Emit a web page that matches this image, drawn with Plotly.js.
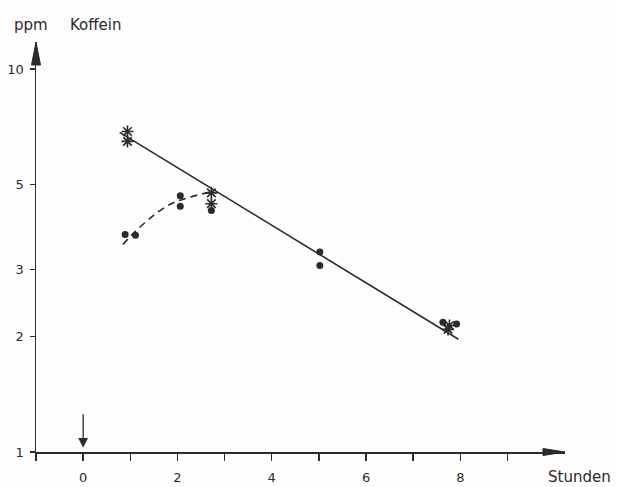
<!DOCTYPE html>
<html>
<head>
<meta charset="utf-8">
<script src="https://cdn.plot.ly/plotly-3.0.1.min.js"></script>
<style>html,body{margin:0;padding:0;background:#fdfdfd;}#chart{width:617px;height:487px;}</style>
</head>
<body>
<div id="chart"></div>
<script>
// Stunden (hours) and Koffein (ppm) readings
var starHours = [0.94, 0.94, 2.72, 2.72, 7.77, 7.74];
var starPpm   = [6.87, 6.47, 4.75, 4.45, 2.14, 2.09];
var dotHours  = [0.89, 1.11, 2.06, 2.06, 2.72, 5.02, 5.02, 7.63, 7.92];
var dotPpm    = [3.70, 3.68, 4.67, 4.38, 4.27, 3.33, 3.07, 2.18, 2.16];
var fitHours  = [0.775, 7.96];
var fitPpm    = [6.83, 1.97];
var riseHours = [0.845, 1.108, 1.766, 2.19, 2.756];
var risePpm   = [3.48, 3.77, 4.38, 4.60, 4.79];
var xTickVals = [-1, 0, 1, 2, 3, 4, 5, 6, 7, 8, 9];
var xTickText = ['', '0', '', '2', '', '4', '', '6', '', '8', ''];
var yTickVals = [1, 2, 3, 5, 10];
var yTickText = ['1', '2', '3', '5', '10'];

var ink = '#2b2b2b';
var font = 'DejaVu Sans, Liberation Sans, Arial, sans-serif';

var traces = [
  {x: fitHours, y: fitPpm, mode: 'lines', line: {color: ink, width: 1.6}, hoverinfo: 'skip'},
  {x: riseHours, y: risePpm, mode: 'lines', line: {color: ink, width: 1.6, dash: '7px,5px', shape: 'spline'}, hoverinfo: 'skip'},
  {x: dotHours, y: dotPpm, mode: 'markers', marker: {symbol: 'circle', size: 7, color: ink}},
  {x: starHours, y: starPpm, mode: 'markers', marker: {symbol: 'asterisk-open', size: 10, color: ink, line: {color: ink, width: 1.6}}}
];

function py(p) { return (452 - p) / 410; }
function px(p) { return (p - 36) / 529; }

var layout = {
  width: 617, height: 487,
  margin: {l: 36, r: 52, t: 42, b: 35, pad: 0},
  paper_bgcolor: '#fdfdfd', plot_bgcolor: '#fdfdfd',
  showlegend: false,
  font: {family: font, color: ink, size: 13},
  xaxis: {
    range: [-1, 10.22], showgrid: false, zeroline: false,
    showline: true, linecolor: ink, linewidth: 1.5,
    ticks: 'outside', ticklen: 7, tickwidth: 1.5, tickcolor: ink,
    tickmode: 'array', tickvals: xTickVals, ticktext: xTickText,
    ticklabelstandoff: 6, tickfont: {family: font, size: 13, color: ink},
    automargin: false
  },
  yaxis: {
    type: 'log', range: [0, 1.0705], showgrid: false, zeroline: false,
    showline: true, linecolor: ink, linewidth: 1.5,
    ticks: 'outside', ticklen: 5, tickwidth: 1.5, tickcolor: ink,
    tickmode: 'array', tickvals: yTickVals, ticktext: yTickText,
    ticklabelstandoff: 3, tickfont: {family: font, size: 13, color: ink},
    automargin: false
  },
  shapes: [
    {type: 'path', xref: 'x', yref: 'paper', xsizemode: 'pixel', ysizemode: 'pixel',
     xanchor: 10.22, yanchor: 0, path: 'M0,0 L-22,3.5 L-22,-3.5 Z',
     fillcolor: ink, line: {color: ink, width: 1}},
    {type: 'path', xref: 'paper', yref: 'paper', xsizemode: 'pixel', ysizemode: 'pixel',
     xanchor: 0, yanchor: 1, path: 'M0,0 L-4.5,-23 L4.5,-23 Z',
     fillcolor: ink, line: {color: ink, width: 1}}
  ],
  annotations: [
    {x: 0, y: 0.0112, xref: 'x', yref: 'y', ax: 0, ay: 0.1026, axref: 'x', ayref: 'y',
     text: '', showarrow: true, arrowhead: 2, arrowsize: 1.5, arrowwidth: 1.3, arrowcolor: ink},
    {xref: 'paper', yref: 'paper', x: px(12), y: py(25), xanchor: 'left', yanchor: 'middle',
     text: 'ppm', showarrow: false, font: {family: font, size: 15, color: ink}},
    {xref: 'paper', yref: 'paper', x: px(68), y: py(25), xanchor: 'left', yanchor: 'middle',
     text: 'Koffein', showarrow: false, font: {family: font, size: 15, color: ink}},
    {xref: 'paper', yref: 'paper', x: px(613), y: py(477), xanchor: 'right', yanchor: 'middle',
     text: 'Stunden', showarrow: false, font: {family: font, size: 15, color: ink}}
  ]
};

Plotly.newPlot('chart', traces, layout, {displayModeBar: false, staticPlot: true});
</script>
</body>
</html>
